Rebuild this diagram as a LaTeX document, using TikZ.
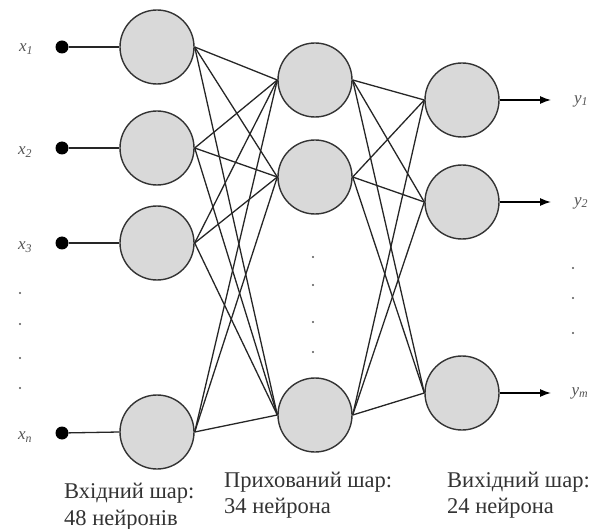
\documentclass[tikz,border=0pt]{standalone}
\usepackage{fontspec}
\setmainfont{Liberation Serif}
\usetikzlibrary{arrows.meta}
\definecolor{nfill}{HTML}{D9D9D9}
\definecolor{nline}{HTML}{333333}
\definecolor{lbl}{HTML}{555555}
\tikzset{
  neuron/.style={circle, draw=nline, line width=1.4pt, fill=nfill, minimum size=74pt, inner sep=0pt},
  indot/.style={circle, fill=black, minimum size=13pt, inner sep=0pt},
  conn/.style={line width=1.3pt, draw=black!85},
  sdot/.style={circle, fill=lbl, minimum size=2.4pt, inner sep=0pt},
  varlbl/.style={text=lbl, font=\fontsize{17}{19}\selectfont\itshape, inner sep=0pt},
  laytext/.style={anchor=base west, font=\fontsize{22.5}{26}\selectfont, text=black!80, inner sep=0pt},
  outarrow/.style={line width=1.3pt, -{Latex[length=11pt,width=8pt]}}
}
\begin{document}
\begin{tikzpicture}[x=1pt,y=-1pt]
\useasboundingbox (0,0) rectangle (602,529);
% input layer
\node[neuron] (i1) at (157,47) {};
\node[neuron] (i2) at (157,148) {};
\node[neuron] (i3) at (157,243) {};
\node[neuron] (i4) at (157,432) {};
% hidden layer
\node[neuron] (h1) at (315,80) {};
\node[neuron] (h2) at (315,177) {};
\node[neuron] (h3) at (315,415) {};
% output layer
\node[neuron] (o1) at (462,100) {};
\node[neuron] (o2) at (462,202) {};
\node[neuron] (o3) at (462,393) {};
% input dots
\node[indot] (d1) at (62,47) {};
\node[indot] (d2) at (62,148) {};
\node[indot] (d3) at (62,243) {};
\node[indot] (d4) at (62,433) {};
\foreach \k in {1,2,3,4} { \draw[conn] (d\k) -- (i\k.west); }
% labels
\node[varlbl] (x1) at (26,49) {x\textsubscript{1}};
\node[varlbl] (x2) at (25,152) {x\textsubscript{2}};
\node[varlbl] (x3) at (25,247) {x\textsubscript{3}};
\node[varlbl] (xn) at (25,437) {x\textsubscript{n}};
\node[sdot] (ld1) at (20,293) {};
\node[sdot] (ld2) at (20,324) {};
\node[sdot] (ld3) at (20,358) {};
\node[sdot] (ld4) at (20,388) {};
% connections
\foreach \a in {1,2,3,4} { \foreach \b in {1,2,3} { \draw[conn] (i\a.east) -- (h\b.west); } }
\foreach \a in {1,2,3} { \foreach \b in {1,2,3} { \draw[conn] (h\a.east) -- (o\b.west); } }
% hidden dots
\node[sdot] (hd1) at (313,257) {};
\node[sdot] (hd2) at (313,285) {};
\node[sdot] (hd3) at (313,322) {};
\node[sdot] (hd4) at (313,352) {};
% outputs
\coordinate (e1) at (551,100);
\coordinate (e2) at (551,202);
\coordinate (e3) at (551,393);
\foreach \k in {1,2,3} { \draw[outarrow] (o\k.east) -- (e\k); }
\node[varlbl] (y1) at (581,101) {y\textsubscript{1}};
\node[varlbl] (y2) at (581,203) {y\textsubscript{2}};
\node[varlbl] (ym) at (580,393) {y\textsubscript{m}};
\node[sdot] (rd1) at (573,268) {};
\node[sdot] (rd2) at (573,298) {};
\node[sdot] (rd3) at (573,333) {};
% layer captions
\node[laytext] (c1a) at (64,498) {Вхідний шар:};
\node[laytext] (c1b) at (64,525) {48 нейронів};
\node[laytext] (c2a) at (224,487) {Прихований шар:};
\node[laytext] (c2b) at (224,513) {34 нейрона};
\node[laytext] (c3a) at (447,487) {Вихідний шар:};
\node[laytext] (c3b) at (447,513) {24 нейрона};
\end{tikzpicture}
\end{document}
